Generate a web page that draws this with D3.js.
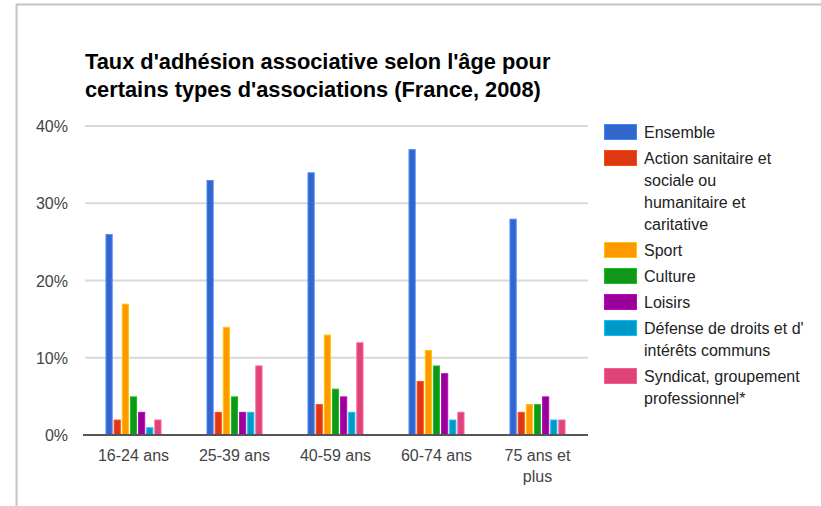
<!DOCTYPE html>
<html>
<head>
<meta charset="utf-8">
<script src="https://cdn.jsdelivr.net/npm/d3@7"></script>
<style>
  body { margin: 0; background: #fff; }
  text { font-family: Arial, "Liberation Sans", sans-serif; }
</style>
</head>
<body>
<div id="viz_div"></div>
<script>
// age groups, one row of values per series (in %)
var categories = ["16-24 ans", "25-39 ans", "40-59 ans", "60-74 ans", "75 ans et plus"];
var cat_lines = [["16-24 ans"], ["25-39 ans"], ["40-59 ans"], ["60-74 ans"], ["75 ans et", "plus"]];

var series = ["Ensemble", "Action sanitaire et sociale ou humanitaire et caritative", "Sport",
              "Culture", "Loisirs", "Défense de droits et d' intérêts communs",
              "Syndicat, groupement professionnel*"];
var series_lines = [["Ensemble"],
                    ["Action sanitaire et", "sociale ou", "humanitaire et", "caritative"],
                    ["Sport"], ["Culture"], ["Loisirs"],
                    ["Défense de droits et d'", "intérêts communs"],
                    ["Syndicat, groupement", "professionnel*"]];

var ensemble  = [26, 33, 34, 37, 28];
var action    = [2, 3, 4, 7, 3];
var sport     = [17, 14, 13, 11, 4];
var culture   = [5, 5, 6, 9, 4];
var loisirs   = [3, 3, 5, 8, 5];
var defense   = [1, 3, 3, 2, 2];
var syndicat  = [2, 9, 12, 3, 2];
var values = [ensemble, action, sport, culture, loisirs, defense, syndicat];

var y_ticks = [0, 10, 20, 30, 40];
var colors = ["#3366cc", "#dc3912", "#ff9900", "#109618", "#990099", "#0099c6", "#dd4477"];

var w = 821, h = 506;
var left = 83, right = 588, top_y = 126, bottom_y = 435;

var svg = d3.select("#viz_div").append("svg")
            .attr("width", w)
            .attr("height", h);

// frame lines of the screenshot
svg.append("line").attr("x1", 16.5).attr("x2", 16.5).attr("y1", 4).attr("y2", h)
   .attr("stroke", "#c4c4c4").attr("stroke-width", 2);
svg.append("line").attr("x1", 16).attr("x2", w).attr("y1", 4.5).attr("y2", 4.5)
   .attr("stroke", "#c4c4c4").attr("stroke-width", 2);

// title
svg.append("text")
   .attr("x", 85).attr("y", 0)
   .attr("font-size", 21.8).attr("font-weight", "bold").attr("fill", "#000")
   .selectAll("tspan")
   .data(["Taux d'adhésion associative selon l'âge pour", "certains types d'associations (France, 2008)"])
   .enter().append("tspan")
   .attr("x", 85)
   .attr("y", function(d, i) { return 69 + i * 28; })
   .text(function(d) { return d; });

var y = d3.scaleLinear().domain([0, 40]).range([bottom_y, top_y]);

var x0 = d3.scaleBand().domain(categories).range([left, right])
           .paddingInner(0.446).paddingOuter(0.223);
var x1 = d3.scaleBand().domain(d3.range(series.length)).range([0, x0.bandwidth()])
           .paddingInner(0.125).paddingOuter(0);

// gridlines
svg.selectAll("line.grid")
   .data(y_ticks.filter(function(t) { return t > 0; }))
   .enter().append("line")
   .attr("class", "grid")
   .attr("x1", left + 2).attr("x2", right)
   .attr("y1", function(d) { return y(d); })
   .attr("y2", function(d) { return y(d); })
   .attr("stroke", "#d9d9d9").attr("stroke-width", 2);

// y tick labels
svg.selectAll("text.ytick")
   .data(y_ticks)
   .enter().append("text")
   .attr("class", "ytick")
   .attr("x", 68)
   .attr("y", function(d) { return y(d) + 6; })
   .attr("text-anchor", "end")
   .attr("font-size", 16).attr("fill", "#444")
   .text(function(d) { return d + "%"; });

// bars
var groups = svg.selectAll("g.cat")
   .data(categories)
   .enter().append("g")
   .attr("class", "cat")
   .attr("transform", function(d) { return "translate(" + x0(d) + ",0)"; });

groups.selectAll("rect")
   .data(function(d, ci) { return values.map(function(v, si) { return { s: si, v: v[ci] }; }); })
   .enter().append("rect")
   .attr("x", function(d) { return x1(d.s) + 0.5; })
   .attr("y", function(d) { return y(d.v) + 0.5; })
   .attr("width", x1.bandwidth() - 1)
   .attr("height", function(d) { return Math.max(0, y(0) - y(d.v) - 1); })
   .attr("fill", function(d) { return colors[d.s]; })
   .attr("stroke", function(d) { return d3.color(colors[d.s]).brighter(0.7); })
   .attr("stroke-width", 1);

// baseline
svg.append("line")
   .attr("x1", left).attr("x2", right)
   .attr("y1", y(0)).attr("y2", y(0))
   .attr("stroke", "#555").attr("stroke-width", 2);

// x tick labels
svg.selectAll("text.xtick")
   .data(categories)
   .enter().append("text")
   .attr("class", "xtick")
   .attr("text-anchor", "middle")
   .attr("font-size", 16).attr("fill", "#444")
   .each(function(d, i) {
       var cx = x0(d) + x0.bandwidth() / 2;
       d3.select(this).selectAll("tspan")
         .data(cat_lines[i])
         .enter().append("tspan")
         .attr("x", cx)
         .attr("y", function(l, j) { return 461 + j * 21; })
         .text(function(l) { return l; });
   });

// legend
var leg_y = [];
var cur = 132;
series_lines.forEach(function(lines) {
    leg_y.push(cur);
    cur += 26 + (lines.length - 1) * 22;
});

var legend = svg.selectAll("g.leg")
   .data(series)
   .enter().append("g")
   .attr("class", "leg")
   .attr("transform", function(d, i) { return "translate(604," + leg_y[i] + ")"; });

legend.append("rect")
   .attr("x", 0.5).attr("y", -7.5)
   .attr("width", 32).attr("height", 15)
   .attr("fill", function(d, i) { return colors[i]; })
   .attr("stroke", function(d, i) { return d3.color(colors[i]).brighter(0.7); });

legend.append("text")
   .attr("font-size", 16).attr("fill", "#222")
   .each(function(d, i) {
       d3.select(this).selectAll("tspan")
         .data(series_lines[i])
         .enter().append("tspan")
         .attr("x", 40)
         .attr("y", function(l, j) { return 6 + j * 22; })
         .text(function(l) { return l; });
   });
</script>
</body>
</html>
